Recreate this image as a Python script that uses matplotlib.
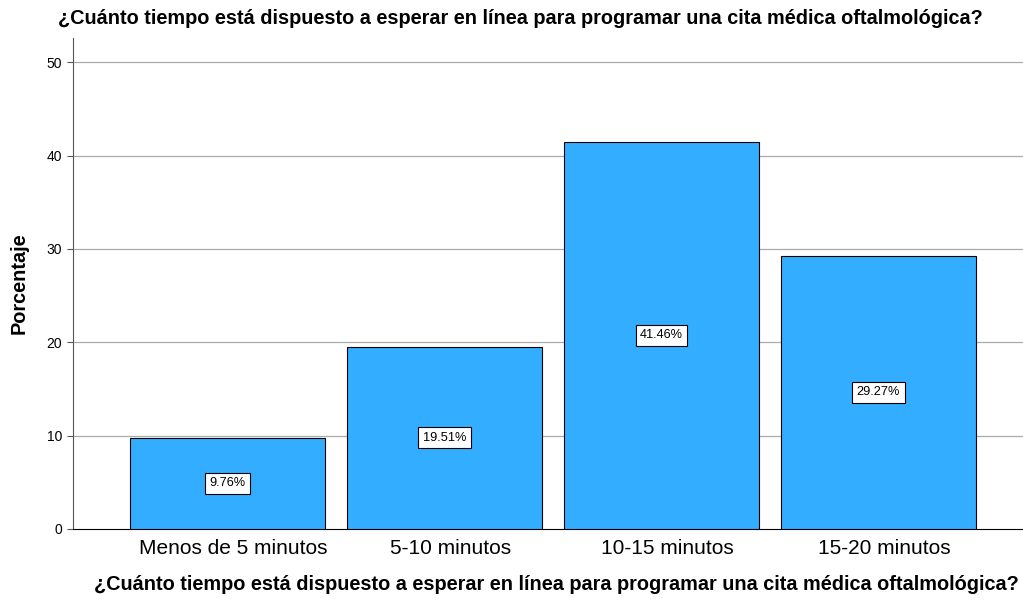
import matplotlib
matplotlib.use("Agg")
import matplotlib.pyplot as plt
import matplotlib.transforms as mtransforms

categories = ["Menos de 5 minutos", "5-10 minutos", "10-15 minutos", "15-20 minutos"]
values = [9.76, 19.51, 41.46, 29.27]
labels = ["9.76%", "19.51%", "41.46%", "29.27%"]
yticks = [0, 10, 20, 30, 40, 50]
title = "¿Cuánto tiempo está dispuesto a esperar en línea para programar una cita médica oftalmológica?"

plt.rcParams['font.family'] = ['Liberation Sans', 'DejaVu Sans']

fig = plt.figure(figsize=(10.23, 6.0), dpi=100)
ax = fig.add_axes([73/1023, 71/600, 1 - 73/1023, (529-38)/600])

x = list(range(len(categories)))
ax.bar(x, values, width=0.9, color="#33adff", edgecolor="black", linewidth=0.8, zorder=3)
for xi, v, lab in zip(x, values, labels):
    ax.text(xi, v/2, lab, ha="center", va="center", fontsize=9.2, zorder=4,
            bbox=dict(boxstyle="square,pad=0.35", facecolor="white", edgecolor="black", linewidth=0.8))

ax.set_xlim(-0.712, 3.666)
ax.set_ylim(0, 52.6)
ax.set_yticks(yticks)
ax.set_yticklabels([str(t) for t in yticks], fontsize=10)
ax.set_xticks(x)
ax.set_xticklabels(categories, fontsize=15)
ax.tick_params(axis="x", length=0, pad=7)
ax.tick_params(axis="y", length=4, color="#555555", pad=4)
offset = mtransforms.ScaledTranslation(6/100, 0, fig.dpi_scale_trans)
for lbl in ax.get_xticklabels():
    lbl.set_transform(lbl.get_transform() + offset)
for yt in yticks[1:]:
    ax.axhline(yt, color="#aaaaaa", linewidth=0.9, zorder=1)

ax.spines["top"].set_visible(False)
ax.spines["right"].set_visible(False)
ax.spines["left"].set_color("#555555")
ax.spines["bottom"].set_color("black")

ax.set_ylabel("Porcentaje", fontsize=14.3, fontweight="bold", labelpad=13)
fig.text(556/1023, 1 - 585/600, title, ha="center", va="center", fontsize=14.3, fontweight="bold")
fig.text(520/1023, 1 - 18/600, title, ha="center", va="center", fontsize=14.3, fontweight="bold")

fig.savefig("out.png", dpi=100)
